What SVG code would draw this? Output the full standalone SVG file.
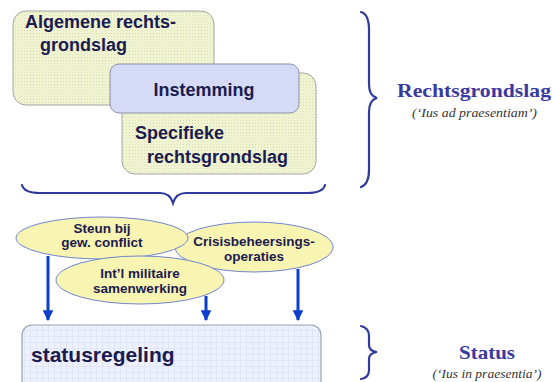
<svg xmlns="http://www.w3.org/2000/svg" width="552" height="382" viewBox="0 0 552 382">
<defs>
<pattern id="dots" width="3" height="3" patternUnits="userSpaceOnUse">
<rect width="3" height="3" fill="#f4f6da"/>
<rect width="1" height="1" fill="#d2dd9f"/>
<rect x="1.5" y="1.5" width="1" height="1" fill="#dfe7b6"/>
</pattern>
<pattern id="grid" width="6" height="6" patternUnits="userSpaceOnUse">
<rect width="6" height="6" fill="#edf1fb"/>
<path d="M0,0.5H6M0.5,0V6" stroke="#e0e6f7" stroke-width="1"/>
</pattern>
<marker id="arr" viewBox="0 0 10 10" refX="9" refY="5" markerWidth="3.6" markerHeight="3.6" orient="auto" markerUnits="strokeWidth">
<path d="M0,0 L10,5 L0,10 z" fill="#0b3fcb"/>
</marker>
</defs>
<style>
.box{fill:url(#dots);stroke:#a4a4a4;stroke-width:1}
.bt{font-family:"Liberation Sans",Arial,sans-serif;font-weight:bold;fill:#1b1b4f}
.ell{fill:#f8f4b2;stroke:#6f86cf;stroke-width:1}
.et{font-family:"Liberation Sans",Arial,sans-serif;font-weight:bold;font-size:13.5px;fill:#1b1b4f;text-anchor:middle}
.brace{fill:none;stroke:#2f3a9c;stroke-width:2.2;stroke-linecap:round}
.st{font-family:"Liberation Serif","Times New Roman",serif;font-weight:bold;fill:#3a3aa2}
.si{font-family:"Liberation Serif","Times New Roman",serif;font-style:italic;fill:#333}
.arrow{stroke:#0b3fcb;stroke-width:3;fill:none}
</style>
<g id="algemene">
<rect class="box" x="13" y="11" width="201" height="94" rx="13"/>
<text class="bt" font-size="18" x="25" y="28">Algemene rechts-</text>
<text class="bt" font-size="18" x="40" y="51">grondslag</text>
</g>
<g id="specifieke">
<rect class="box" x="122" y="73" width="194" height="101" rx="13"/>
<text class="bt" font-size="18" x="135" y="139">Specifieke</text>
<text class="bt" font-size="18" x="147" y="163">rechtsgrondslag</text>
</g>
<g id="instemming">
<rect x="110" y="64" width="189" height="49" rx="9" fill="#d5dbf6" stroke="#8c90a8" stroke-width="1"/>
<text class="bt" font-size="18" x="204" y="96" text-anchor="middle">Instemming</text>
</g>
<g id="brace-top">
<path class="brace" d="M22,185 Q24,193 40,193 L160,193 Q170,193 173,203 Q176,193 186,193 L307,193 Q323,193 325,185"/>
</g>
<g id="crisis">
<ellipse class="ell" cx="254" cy="247" rx="79" ry="25"/>
<text class="et" x="254" y="246">Crisisbeheersings-</text>
<text class="et" x="254" y="261">operaties</text>
</g>
<g id="steun">
<ellipse class="ell" cx="102" cy="238" rx="86" ry="21"/>
<text class="et" x="102" y="233">Steun bij</text>
<text class="et" x="102" y="247">gew. conflict</text>
</g>
<g id="intl">
<ellipse class="ell" cx="140" cy="280" rx="84" ry="24"/>
<text class="et" x="140" y="278">Int’l militaire</text>
<text class="et" x="140" y="293">samenwerking</text>
</g>
<g id="connectors">
<line class="arrow" x1="48" y1="256" x2="48" y2="320" marker-end="url(#arr)"/>
<line class="arrow" x1="206" y1="296" x2="206" y2="320" marker-end="url(#arr)"/>
<line class="arrow" x1="298" y1="269" x2="298" y2="320" marker-end="url(#arr)"/>
</g>
<g id="statusregeling">
<rect x="22" y="325" width="299" height="70" rx="10" fill="url(#grid)" stroke="#93a3ab" stroke-width="1.2"/>
<text class="bt" font-size="21" x="31" y="362">statusregeling</text>
</g>
<g id="label-rechtsgrondslag">
<path class="brace" d="M361,12 Q369,14 369,30 L369,84 Q369,96 377,98 Q369,100 369,112 L369,170 Q369,184 361,187"/>
<text class="st" font-size="19" x="397" y="97" textLength="154" lengthAdjust="spacingAndGlyphs">Rechtsgrondslag</text>
<text class="si" font-size="12.5" x="412" y="117" textLength="125" lengthAdjust="spacingAndGlyphs">(‘Ius ad praesentiam’)</text>
</g>
<g id="label-status">
<path class="brace" d="M361,326 Q369,328 369,336 L369,345 Q369,351 377,352 Q369,353 369,359 L369,370 Q369,378 361,379"/>
<text class="st" font-size="19" x="487" y="359" text-anchor="middle" textLength="56" lengthAdjust="spacingAndGlyphs">Status</text>
<text class="si" font-size="12.5" x="487" y="378" text-anchor="middle" textLength="109" lengthAdjust="spacingAndGlyphs">(‘Ius in praesentia’)</text>
</g>
</svg>
